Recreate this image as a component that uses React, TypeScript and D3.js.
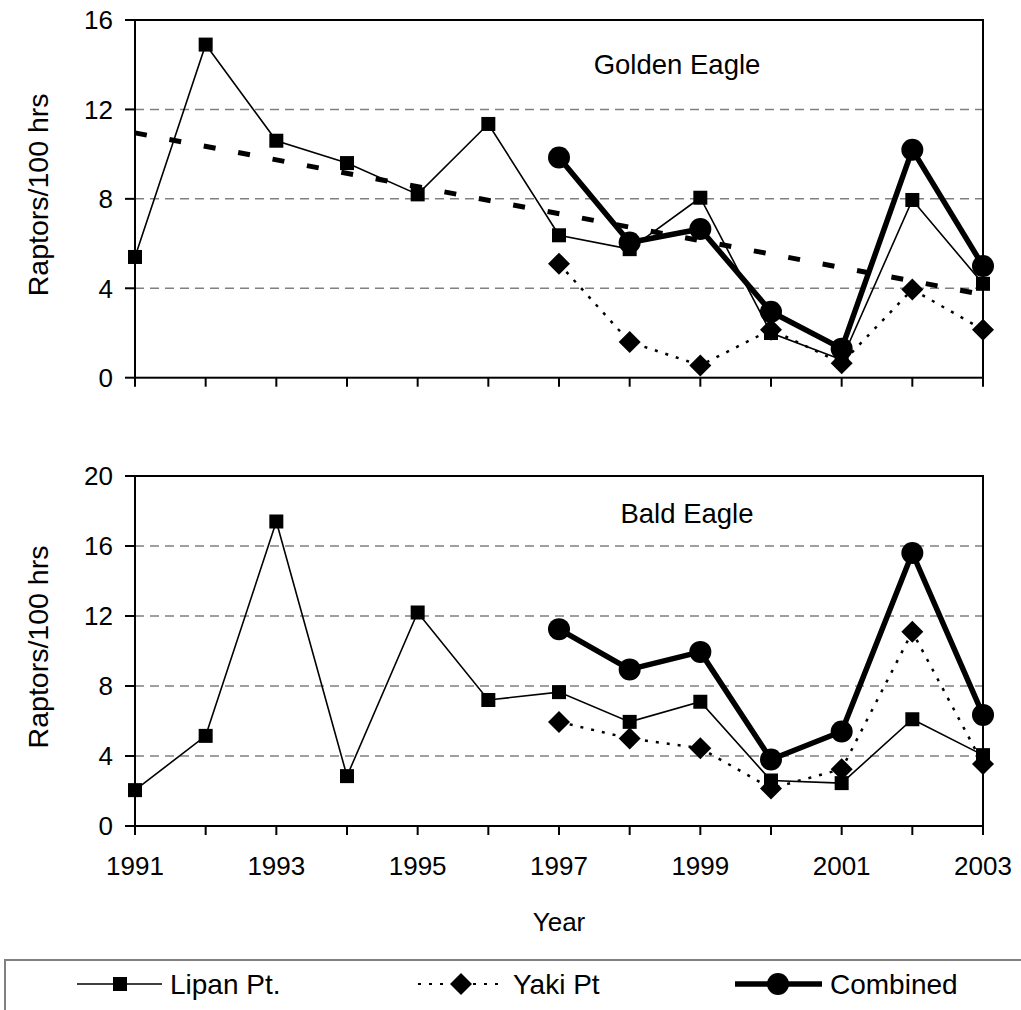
import React from 'react';
import * as d3 from 'd3';

const years = [1991, 1992, 1993, 1994, 1995, 1996, 1997, 1998, 1999, 2000, 2001, 2002, 2003];
const yearLabels = [1991, 1993, 1995, 1997, 1999, 2001, 2003];
const lateYears = [1997, 1998, 1999, 2000, 2001, 2002, 2003];

// Golden Eagle
const goldenLipan = [5.4, 14.9, 10.6, 9.6, 8.2, 11.35, 6.37, 5.75, 8.05, 2.0, 0.8, 7.95, 4.2];
const goldenYaki = [5.1, 1.6, 0.55, 2.15, 0.65, 3.95, 2.15];
const goldenCombined = [9.85, 6.05, 6.65, 2.95, 1.3, 10.2, 5.0];
const goldenTrendYears = [1991, 2003];
const goldenTrend = [10.95, 3.72];
const goldenTicks = [0, 4, 8, 12, 16];

// Bald Eagle
const baldLipan = [2.05, 5.15, 17.4, 2.85, 12.2, 7.2, 7.65, 5.95, 7.1, 2.6, 2.45, 6.1, 4.05];
const baldYaki = [5.95, 5.0, 4.45, 2.15, 3.25, 11.1, 3.55];
const baldCombined = [11.25, 8.95, 9.95, 3.8, 5.4, 15.6, 6.35];
const baldTicks = [0, 4, 8, 12, 16, 20];

const FONT = "'Liberation Sans', Arial, sans-serif";
const X0 = 135;
const X1 = 983;

type Pt = [number, number];

function Square({ x, y, s = 14 }: { x: number; y: number; s?: number }) {
  return <rect x={x - s / 2} y={y - s / 2} width={s} height={s} fill="#000" />;
}

function Diamond({ x, y, r = 11 }: { x: number; y: number; r?: number }) {
  return <path d={`M${x},${y - r}L${x + r},${y}L${x},${y + r}L${x - r},${y}Z`} fill="#000" />;
}

function Panel({
  top,
  bottom,
  max,
  ticks,
  title,
  titleX,
  titleY,
  lipan,
  yaki,
  combined,
  trend,
  showYears,
}: {
  top: number;
  bottom: number;
  max: number;
  ticks: number[];
  title: string;
  titleX: number;
  titleY: number;
  lipan: number[];
  yaki: number[];
  combined: number[];
  trend?: number[];
  showYears?: boolean;
}) {
  const x = d3.scaleLinear().domain([1991, 2003]).range([X0, X1]);
  const y = d3.scaleLinear().domain([0, max]).range([bottom, top]);
  const line = d3.line<Pt>().x((d) => x(d[0])).y((d) => y(d[1]));

  const lipanPts: Pt[] = years.map((yr, i) => [yr, lipan[i]]);
  const yakiPts: Pt[] = lateYears.map((yr, i) => [yr, yaki[i]]);
  const combPts: Pt[] = lateYears.map((yr, i) => [yr, combined[i]]);
  const trendPts: Pt[] | null = trend ? goldenTrendYears.map((yr, i) => [yr, trend[i]]) : null;

  return (
    <g>
      {ticks
        .filter((t) => t > 0 && t < max)
        .map((t) => (
          <line key={'g' + t} x1={X0} x2={X1} y1={y(t)} y2={y(t)} stroke="#808080" strokeWidth={1.5} strokeDasharray="9 6" />
        ))}
      <rect x={X0} y={top} width={X1 - X0} height={bottom - top} fill="none" stroke="#000" strokeWidth={2} />
      {ticks.map((t) => (
        <g key={'t' + t}>
          <line x1={X0 - 10} x2={X0} y1={y(t)} y2={y(t)} stroke="#000" strokeWidth={2} />
          <text x={X0 - 22} y={y(t)} dy="0.36em" textAnchor="end" fontSize={26} fontFamily={FONT}>
            {t}
          </text>
        </g>
      ))}
      {years.map((yr) => (
        <line key={'x' + yr} x1={x(yr)} x2={x(yr)} y1={bottom} y2={bottom + 9} stroke="#000" strokeWidth={2} />
      ))}
      {showYears &&
        yearLabels.map((yr) => (
          <text key={'xl' + yr} x={x(yr)} y={bottom + 40} dy="0.36em" textAnchor="middle" fontSize={26} fontFamily={FONT}>
            {yr}
          </text>
        ))}
      <text
        transform={`translate(38,${(top + bottom) / 2 - 4}) rotate(-90)`}
        dy="0.36em"
        textAnchor="middle"
        fontSize={28.5}
        fontFamily={FONT}
      >
        Raptors/100 hrs
      </text>
      <text x={titleX} y={titleY} dy="0.36em" textAnchor="middle" fontSize={27.5} fontFamily={FONT}>
        {title}
      </text>

      <path d={line(lipanPts) || ''} fill="none" stroke="#000" strokeWidth={1.6} />
      <path d={line(yakiPts) || ''} fill="none" stroke="#000" strokeWidth={2.5} strokeDasharray="3 8" />
      <path d={line(combPts) || ''} fill="none" stroke="#000" strokeWidth={5.5} strokeLinejoin="round" />

      {lipanPts.map((d) => (
        <Square key={'s' + d[0]} x={x(d[0])} y={y(d[1])} />
      ))}
      {yakiPts.map((d) => (
        <Diamond key={'d' + d[0]} x={x(d[0])} y={y(d[1])} />
      ))}
      {combPts.map((d) => (
        <circle key={'c' + d[0]} cx={x(d[0])} cy={y(d[1])} r={11} fill="#000" />
      ))}
      {trendPts && <path d={line(trendPts) || ''} fill="none" stroke="#000" strokeWidth={5} strokeDasharray="12 23" />}
    </g>
  );
}

export default function App() {
  const ly = 984;
  return (
    <svg
      width={1021}
      height={1010}
      style={{ position: 'absolute', left: 0, top: 0, display: 'block', background: '#fff' }}
    >
      <rect width={1021} height={1010} fill="#fff" />
      <Panel
        top={20}
        bottom={377.7}
        max={16}
        ticks={goldenTicks}
        title="Golden Eagle"
        titleX={677}
        titleY={64}
        lipan={goldenLipan}
        yaki={goldenYaki}
        combined={goldenCombined}
        trend={goldenTrend}
      />
      <Panel
        top={476}
        bottom={826}
        max={20}
        ticks={baldTicks}
        title="Bald Eagle"
        titleX={687}
        titleY={513}
        lipan={baldLipan}
        yaki={baldYaki}
        combined={baldCombined}
        showYears
      />
      <text x={(X0 + X1) / 2} y={922} dy="0.36em" textAnchor="middle" fontSize={26} fontFamily={FONT}>
        Year
      </text>

      <rect x={5} y={960} width={1030} height={80} fill="none" stroke="#808080" strokeWidth={2} />
      <line x1={77} x2={162} y1={ly} y2={ly} stroke="#000" strokeWidth={1.6} />
      <Square x={120} y={ly} />
      <text x={170} y={ly} dy="0.36em" fontSize={28} fontFamily={FONT}>
        Lipan Pt.
      </text>
      <line x1={418} x2={502} y1={ly} y2={ly} stroke="#000" strokeWidth={2} strokeDasharray="3 8" />
      <Diamond x={461} y={ly} />
      <text x={513} y={ly} dy="0.36em" fontSize={28} fontFamily={FONT}>
        Yaki Pt
      </text>
      <line x1={735} x2={822} y1={ly} y2={ly} stroke="#000" strokeWidth={5.5} />
      <circle cx={778} cy={ly} r={11} fill="#000" />
      <text x={830} y={ly} dy="0.36em" fontSize={28} fontFamily={FONT}>
        Combined
      </text>
    </svg>
  );
}
